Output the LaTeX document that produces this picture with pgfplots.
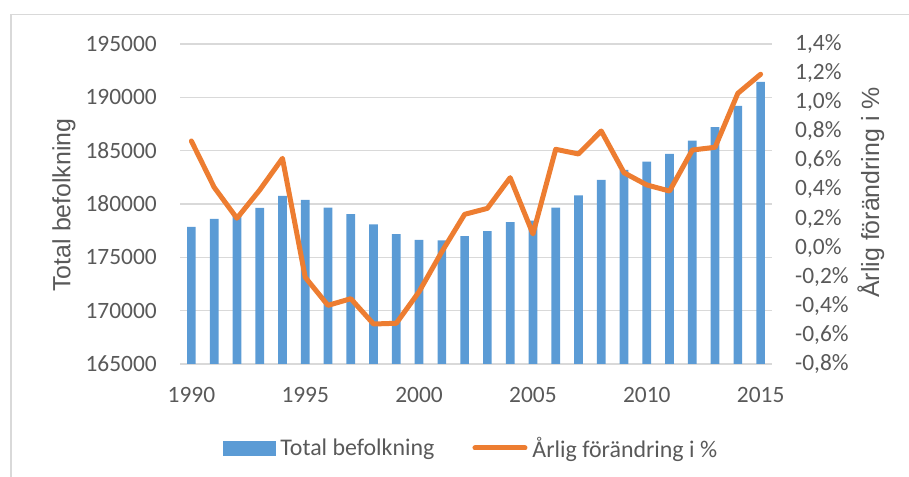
\documentclass[border=0pt]{standalone}
\usepackage{fontspec}
\setmainfont{Carlito}
\newfontfamily\titlefont{Liberation Sans}
\usepackage{pgfplots}
\usepackage{pgfplotstable}
\pgfplotsset{compat=1.18}

\definecolor{barblue}{HTML}{5B9BD5}
\definecolor{lineorange}{HTML}{ED7D31}
\definecolor{gridgray}{HTML}{D9D9D9}
\definecolor{txtgray}{HTML}{595959}

\pgfplotstableread{
year pop chg
1990 177850 0.733
1991 178600 0.415
1992 178920 0.202
1993 179640 0.396
1994 180760 0.614
1995 180390 -0.204
1996 179650 -0.397
1997 179040 -0.351
1998 178100 -0.525
1999 177170 -0.520
2000 176640 -0.303
2001 176580 -0.028
2002 176980 0.229
2003 177460 0.270
2004 178300 0.481
2005 178440 0.094
2006 179660 0.676
2007 180810 0.644
2008 182250 0.802
2009 183210 0.515
2010 183980 0.431
2011 184710 0.389
2012 185940 0.671
2013 187200 0.690
2014 189200 1.061
2015 191450 1.192
}\datatable

\begin{document}
\begin{tikzpicture}
\path[use as bounding box] (0bp,0bp) rectangle (909bp,477bp);
\draw[gridgray, line width=1.3bp] (11bp,0bp) -- (11bp,462.5bp) -- (909bp,462.5bp);

% bars, left axis
\begin{axis}[
    at={(180bp,113bp)}, anchor=south west,
    scale only axis, width=592bp, height=320bp,
    xmin=1989.5, xmax=2015.5,
    ymin=165000, ymax=195000,
    xtick={1990,1995,...,2015},
    ytick={165000,170000,...,195000},
    scaled y ticks=false,
    ymajorgrids=true,
    grid style={gridgray, line width=1.3bp},
    axis line style={draw=none},
    tick style={draw=none},
    /pgf/number format/assume math mode=true,
    /pgf/number format/fixed,
    /pgf/number format/precision=0,
    /pgf/number format/1000 sep={},
    tick label style={text=txtgray, font=\fontsize{23.5}{27}\selectfont, inner sep=0pt},
    xticklabel style={anchor=north},
    yticklabel style={anchor=east},
    x tick label style={yshift=-23bp},
    y tick label style={xshift=-23bp},
    ylabel={Total befolkning},
    ylabel style={at={(axis description cs:-0.196,0.497)}, anchor=center,
        font=\titlefont\fontsize{25}{30}\selectfont, text=txtgray},
]
\addplot[ybar, bar width=8.7bp, fill=barblue, draw=none] table[x=year, y=pop] {\datatable};
\end{axis}

% line, right axis
\begin{axis}[
    at={(180bp,113bp)}, anchor=south west,
    scale only axis, width=592bp, height=320bp,
    xmin=1989.5, xmax=2015.5,
    ymin=-0.8, ymax=1.4,
    xtick=\empty,
    ytick={-0.8,-0.6,...,1.41},
    yticklabel pos=right,
    axis line style={draw=none},
    tick style={draw=none},
    /pgf/number format/assume math mode=true,
    /pgf/number format/.cd, fixed, fixed zerofill, precision=1, use comma,
    /pgfplots/.cd,
    yticklabel={\pgfmathprintnumber{\tick}\%},
    tick label style={text=txtgray, font=\fontsize{23.5}{27}\selectfont, inner sep=0pt},
    yticklabel style={anchor=west, xshift=23bp},
    ylabel={Årlig förändring i \%},
    ylabel style={at={(axis description cs:1.167,0.536)}, anchor=center,
        font=\titlefont\fontsize{25}{30}\selectfont, text=txtgray},
    legend columns=2,
    legend style={
        at={(axis description cs:0.49,-0.2625)}, anchor=center,
        draw=none, fill=none,
        font=\fontsize{24}{28}\selectfont, text=txtgray,
        nodes={inner sep=0pt},
        /tikz/every odd column/.style={column sep=5bp},
        /tikz/every even column/.style={column sep=38bp},
    },
]
\addlegendimage{legend image code/.code={\fill[barblue] (0bp,-7bp) rectangle (52bp,7bp);}}
\addlegendentry{Total befolkning}
\addplot[lineorange, line width=5bp, line join=round, line cap=round,
    legend image code/.code={\draw[lineorange, line width=5bp, line cap=round] (2.5bp,0bp) -- (52.5bp,0bp);}]
    table[x=year, y=chg] {\datatable};
\addlegendentry{Årlig förändring i \%}
\end{axis}
\end{tikzpicture}
\end{document}
